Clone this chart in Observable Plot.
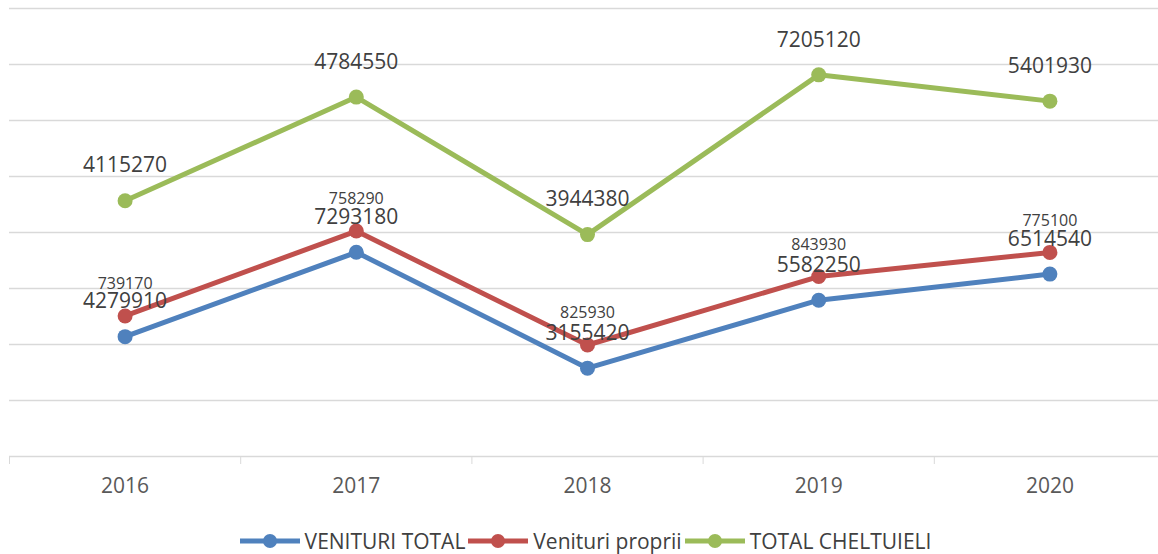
<!DOCTYPE html>
<html><head><meta charset="utf-8">
<script src="https://cdn.jsdelivr.net/npm/d3@7"></script>
<script src="https://cdn.jsdelivr.net/npm/@observablehq/plot@0.6"></script>
<style>
body{margin:0;background:#fff;font-family:"Open Sans",sans-serif;overflow:hidden;}
#legend{display:flex;justify-content:center;align-items:center;height:28px;line-height:24px;font-size:21px;color:#404040;padding-left:14px;white-space:nowrap;}
.item{display:flex;align-items:center;margin-right:2px;}
.item svg{margin-right:4px;}
</style></head><body><div id="chart"></div><div id="legend"></div>
<script>
const years = [2016, 2017, 2018, 2019, 2020];
const seriesNames = ["VENITURI TOTAL", "Venituri proprii", "TOTAL CHELTUIELI"];
const venituriTotal = [4279910, 7293180, 3155420, 5582250, 6514540];
const venituriProprii = [739170, 758290, 825930, 843930, 775100];
const totalCheltuieli = [4115270, 4784550, 3944380, 7205120, 5401930];
const colors = ["#4f81bd", "#c0504d", "#9bbb59"];
const gridTicks = [2e6, 4e6, 6e6, 8e6, 10e6, 12e6, 14e6, 16e6];
const bandEdges = [2015.5, 2016.5, 2017.5, 2018.5, 2019.5, 2020.5];

const seriesValues = [venituriTotal, venituriProprii, totalCheltuieli];
const data = [];
years.forEach((yr, i) => {
  seriesNames.forEach((s, j) => data.push({year: yr, series: s, value: seriesValues[j][i]}));
});

const plot = Plot.plot({
  width: 1158, height: 527,
  marginTop: 8, marginBottom: 71, marginLeft: 9, marginRight: 0,
  style: {fontFamily: "Open Sans", color: "#d9d9d9", background: "white", overflow: "visible"},
  x: {domain: [2015.5, 2020.5], range: [9, 1165], ticks: bandEdges, tickSize: 8, tickFormat: () => "", label: null},
  y: {domain: [0, 16e6], axis: null},
  color: {domain: seriesNames, range: colors},
  marks: [
    Plot.ruleY(gridTicks, {stroke: "#d9d9d9", strokeWidth: 1.3}),
    Plot.ruleY([0], {stroke: "#d9d9d9", strokeWidth: 1.3}),
    Plot.lineY(data, Plot.stackY2({x: "year", y: "value", z: "series", stroke: "series", strokeWidth: 5})),
    Plot.dot(data, Plot.stackY2({x: "year", y: "value", z: "series", fill: "series", r: 7.5})),
    Plot.text(data, Plot.stackY2({x: "year", y: "value", z: "series",
      text: d => d.series === "Venituri proprii" ? "" : String(d.value),
      dy: -35, fontSize: 21, fill: "#404040"})),
    Plot.text(data, Plot.stackY2({x: "year", y: "value", z: "series",
      text: d => d.series === "Venituri proprii" ? String(d.value) : "",
      dy: -32, fontSize: 16, fill: "#404040"})),
    Plot.text(years, {x: d => d, y: 0, dy: 30, fontSize: 21, fill: "#595959", text: d => String(d)})
  ]
});
document.getElementById("chart").appendChild(plot);

const legend = d3.select("#legend");
seriesNames.forEach((s, i) => {
  const item = legend.append("div").attr("class", "item");
  const sv = item.append("svg").attr("width", 62).attr("height", 20);
  sv.append("line").attr("x1", 1).attr("x2", 61).attr("y1", 10).attr("y2", 10)
    .attr("stroke", colors[i]).attr("stroke-width", 5);
  sv.append("circle").attr("cx", 31).attr("cy", 10).attr("r", 7).attr("fill", colors[i]);
  item.append("span").text(s);
});
</script></body></html>
